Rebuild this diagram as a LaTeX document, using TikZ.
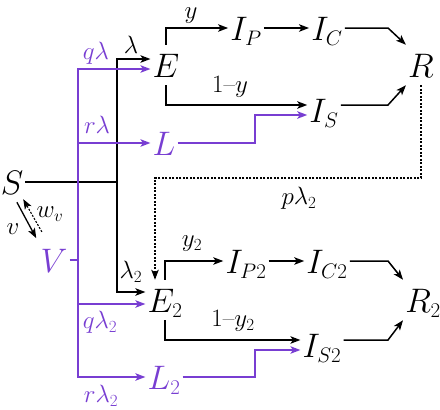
\RequirePackage{fix-cm}
\documentclass[tikz,border=0pt]{standalone}
\usetikzlibrary{arrows.meta,calc}
\definecolor{vio}{RGB}{120,62,210}
\DeclareMathSizes{34}{34}{21}{15}
\DeclareMathSizes{25}{25}{17}{12}
\tikzset{
	comp/.style={font=\fontsize{34}{38}\selectfont, inner xsep=1.5pt, inner ysep=6pt, text height=26pt, text depth=1pt, execute at begin node=$, execute at end node=$},
	lab/.style={font=\fontsize{25}{28}\selectfont, inner sep=0pt, execute at begin node=$, execute at end node=$},
	dots/.style={line width=1.1pt, dash pattern=on 2pt off 1.5pt}
}

\begin{document}
\begin{tikzpicture}[x=1pt,y=-1pt,line width=1.5pt,>={Stealth[length=10pt,width=7.5pt,inset=2.5pt]}]
	\useasboundingbox (0,0) rectangle (440,410);

	\node[comp] (S) at (12,182) {S};
	\node[comp,vio] (V) at (54,260) {V};
	\node[comp] (E) at (166,65) {E};
	\node[comp,vio] (L) at (164,143) {L};
	\node[comp] (IP) at (246,28) {I_P};
	\node[comp] (IC) at (327,28) {I_C};
	\node[comp] (IS) at (324,110) {I_S};
	\node[comp] (R) at (421,65) {R};

	\node[comp] (E2) at (165,300) {E_2};
	\node[comp,vio] (L2) at (164,377) {L_2};
	\node[comp] (IP2) at (246,261) {I_{P2}};
	\node[comp] (IC2) at (327,261) {I_{C2}};
	\node[comp] (IS2) at (322,345) {I_{S2}};
	\node[comp] (R2) at (423,300) {R_2};

	\coordinate (bk) at (117,182);
	\coordinate (pv) at (78,260);
	\coordinate (pl) at (155,178);
	\coordinate (kk) at (255,0);
	\coordinate (kr) at (388,0);

	\draw (S) -- (bk);
	\draw[->] (bk) |- ([yshift=6pt]E.west);
	\draw[->] (bk) |- ([yshift=8pt]E2.west);

	\draw[vio] (V) -- (pv);
	\draw[vio,->] (pv) |- ([yshift=-4pt]E.west);
	\draw[vio,->] (pv) |- (L);
	\draw[vio,->] (pv) |- ([yshift=-4pt]E2.west);
	\draw[vio,->] (pv) |- (L2);

	\draw[->] (E.north) |- (IP);
	\draw[->] (E.south) |- ([yshift=5pt]IS.west);
	\draw[vio,->] (L.east) -- (L.east -| kk) |- ([yshift=-5pt]IS.west);
	\path[->] (IP) edge (IC);
	\draw[->] (IC.east) -- (IC.east -| kr) -- (R.north west);
	\draw[->] ([yshift=5pt]IS.east) -- ([yshift=5pt]IS.east -| kr) -- (R.south west);
	\draw[dots,->] (R.south) |- (pl) -- (pl |- E2.north);

	\draw[->] (E2.north) |- (IP2);
	\draw[->] (E2.south) |- ([yshift=5pt]IS2.west);
	\draw[vio,->] (L2.east) -- (L2.east -| kk) |- ([yshift=-5pt]IS2.west);
	\path[->] (IP2) edge (IC2);
	\draw[->] (IC2.east) -- (IC2.east -| kr) -- (R2.north west);
	\draw[->] ([yshift=5pt]IS2.east) -- ([yshift=5pt]IS2.east -| kr) -- (R2.south west);

	\draw[line width=1.3pt,->] ($(S)!0.26!(V)+(-6,0)$) -- ($(S)!0.72!(V)+(-6,0)$);
	\draw[dots,->] ($(S)!0.64!(V)+(3,0)$) -- ($(S)!0.22!(V)+(2,0)$);

	\node[lab] (lam) at (131,45) {\lambda};
	\node[lab,vio] (qlam) at (96,53) {q\lambda};
	\node[lab,vio] (rlam) at (97,125) {r\lambda};
	\node[lab] (ly) at (191,16) {y};
	\node[lab] (l1y) at (230,87) {1\mbox{--}y};
	\node[lab] (plam) at (299,198) {p\lambda_2};
	\node[lab] (lam2) at (131,272) {\lambda_2};
	\node[lab] (ly2) at (192,244) {y_2};
	\node[lab] (l1y2) at (233,321) {1\mbox{--}y_2};
	\node[lab,vio] (qlam2) at (100,322) {q\lambda_2};
	\node[lab,vio] (rlam2) at (101,396) {r\lambda_2};
	\node[lab] (lv) at (13,229) {v};
	\node[lab] (lwv) at (50,214) {w_v};
\end{tikzpicture}
\end{document}
